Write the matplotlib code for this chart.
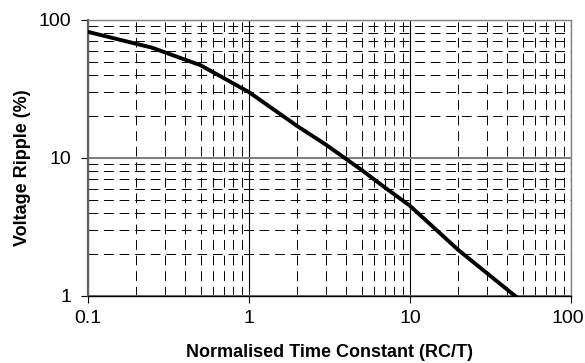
import matplotlib
matplotlib.use("Agg")
import matplotlib.pyplot as plt
import matplotlib.transforms as mtransforms
from matplotlib.ticker import LogLocator, FixedLocator, NullFormatter

plt.rcParams['font.family'] = ['Liberation Sans', 'DejaVu Sans']

rc_t = [0.1, 0.25, 0.5, 1, 2, 3, 5, 7, 10, 20, 45]
ripple = [82, 63, 47, 30, 17, 12.5, 8.2, 6.1, 4.5, 2.15, 1.0]

x_ticks = [0.1, 1, 10, 100]
x_labels = ["0.1", "1", "10", "100"]
y_ticks = [1, 10, 100]
y_labels = ["1", "10", "100"]

fig = plt.figure(figsize=(5.85, 3.63), dpi=100)
ax = fig.add_axes([88/585, 1-296/363, (571-88)/585, (296-20)/363])
ax.set_xscale('log')
ax.set_yscale('log')
ax.set_xlim(0.1, 100)
ax.set_ylim(1, 100)

# minor dashed grid
ax.xaxis.set_minor_locator(LogLocator(base=10, subs=range(2, 10)))
ax.yaxis.set_minor_locator(LogLocator(base=10, subs=range(2, 10)))
ax.xaxis.set_minor_formatter(NullFormatter())
ax.yaxis.set_minor_formatter(NullFormatter())
ax.grid(which='minor', axis='both', color='black', linewidth=0.7, linestyle=(0, (10, 6)))
# major grid: vertical black, horizontal gray
ax.grid(which='major', axis='x', color='black', linewidth=0.8, linestyle='-')
ax.grid(which='major', axis='y', color='#808080', linewidth=1.5, linestyle='-')
ax.set_axisbelow(True)

ax.plot(rc_t, ripple, color='black', linewidth=2.8, solid_joinstyle='miter', zorder=5)

ax.xaxis.set_major_locator(FixedLocator(x_ticks))
ax.set_xticklabels(x_labels)
ax.yaxis.set_major_locator(FixedLocator(y_ticks))
ax.set_yticklabels(y_labels)
ax.tick_params(which='major', direction='out', length=5, width=0.8, labelsize=14, colors='black')
ax.tick_params(axis='x', which='major', pad=5)
ax.tick_params(axis='y', which='major', pad=7)
ax.tick_params(which='minor', length=0)

# nudge the last x tick label so it stays inside the figure
last = ax.get_xticklabels()[-1]
last.set_transform(last.get_transform() + mtransforms.ScaledTranslation(-3/100, 0, fig.dpi_scale_trans))

for side in ['top', 'right']:
    ax.spines[side].set_color('#808080')
    ax.spines[side].set_linewidth(1.0)
ax.spines['left'].set_color('#606060')
ax.spines['left'].set_linewidth(1.6)
ax.spines['bottom'].set_color('black')
ax.spines['bottom'].set_linewidth(1.0)

ax.set_xlabel('Normalised Time Constant (RC/T)', fontsize=13, fontweight='bold')
ax.set_ylabel('Voltage Ripple (%)', fontsize=13, fontweight='bold')
ax.xaxis.set_label_coords(0.5, -0.175)
ax.yaxis.set_label_coords(-0.118, 0.464)

fig.savefig('out.png', dpi=100)
